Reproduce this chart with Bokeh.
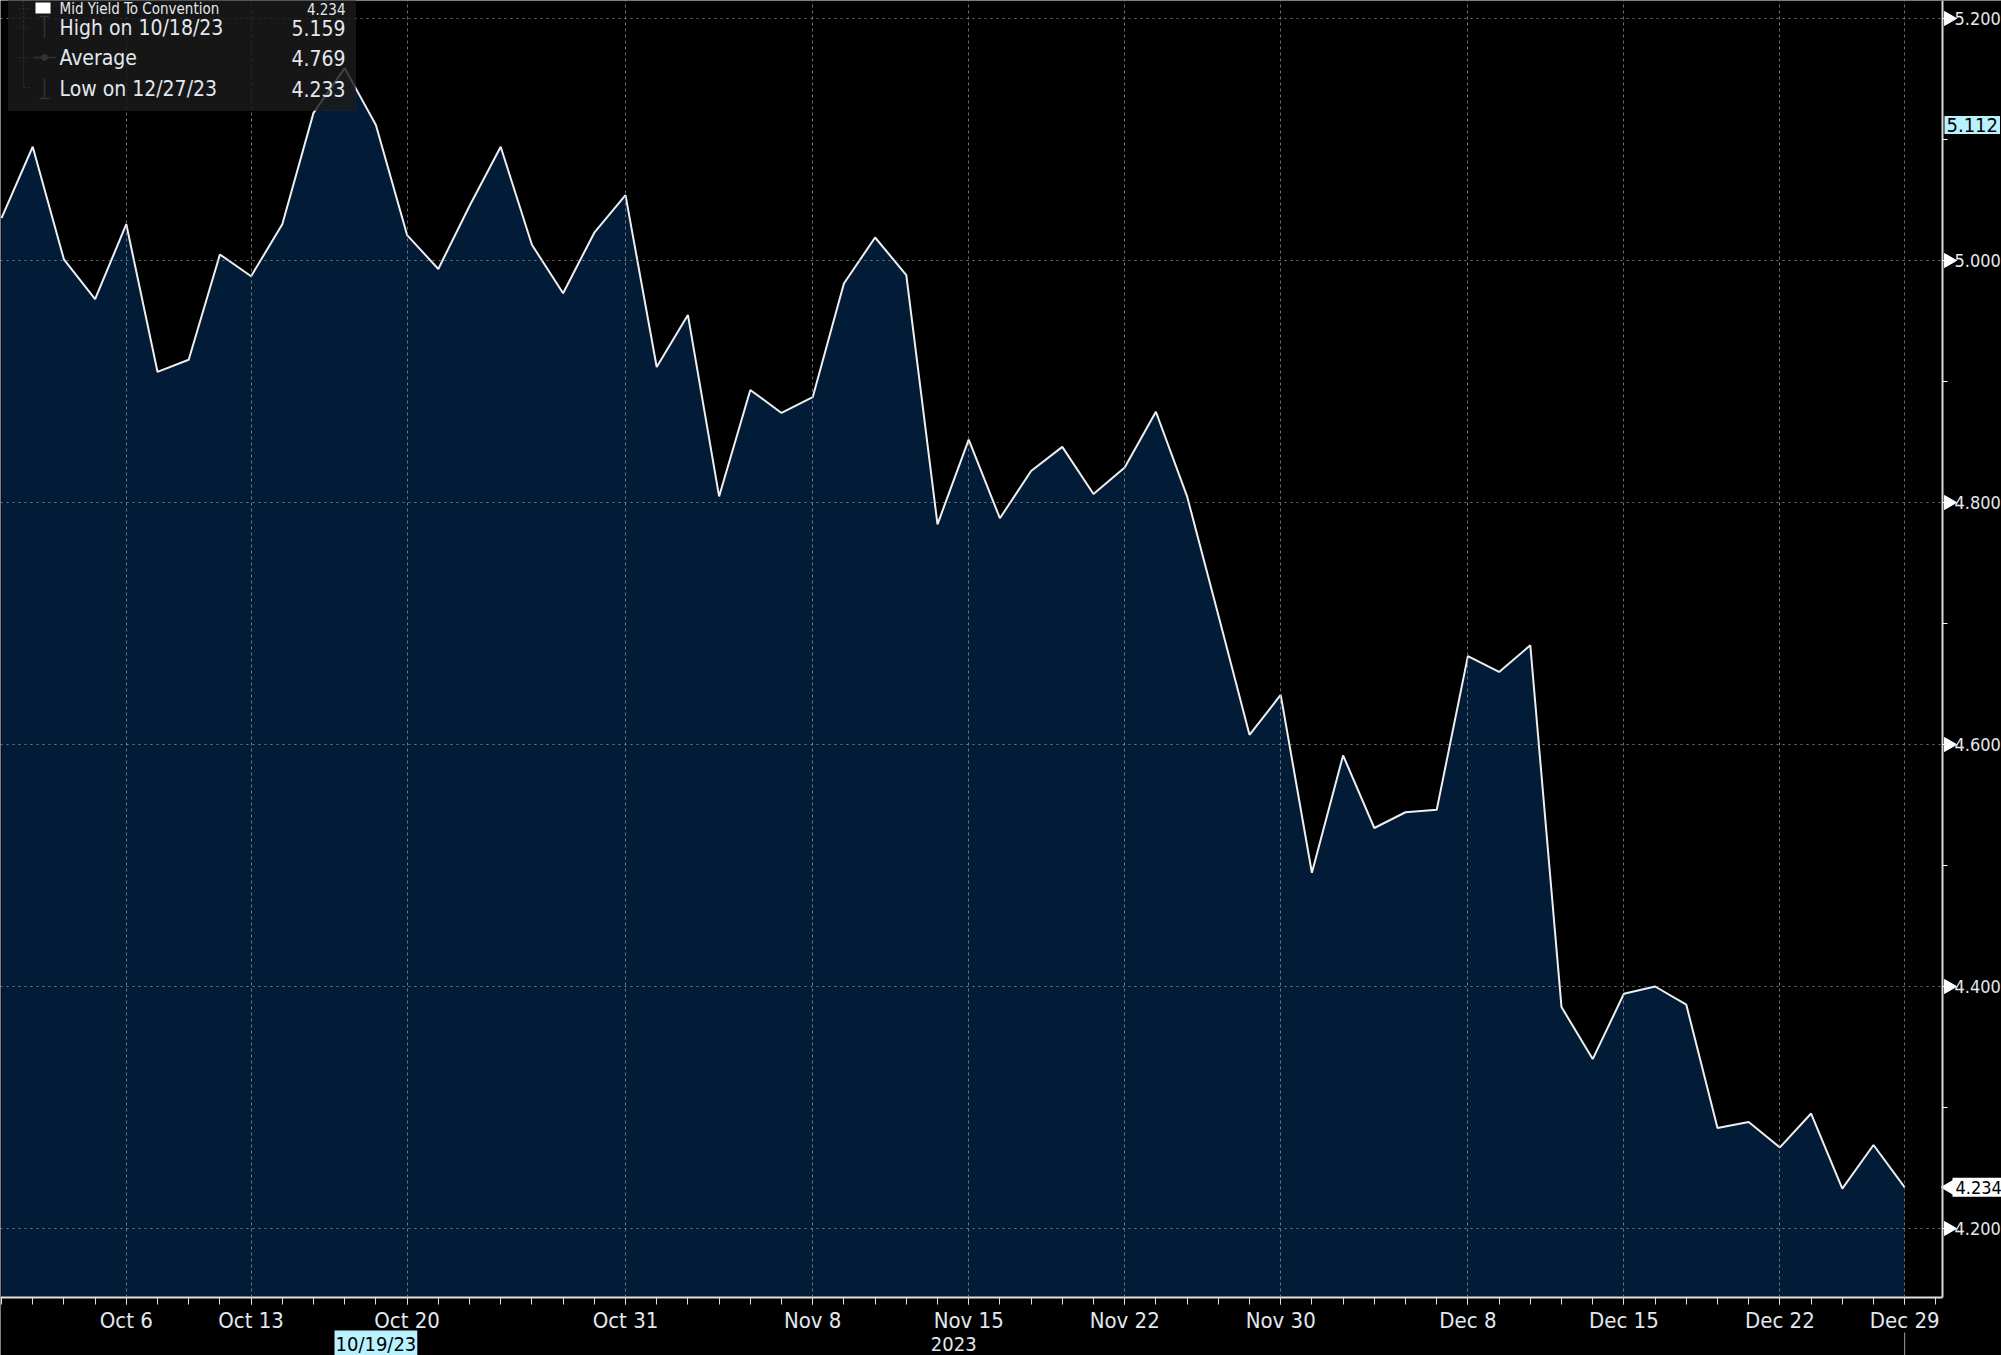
import math
from bokeh.plotting import figure
from bokeh.models import FixedTicker, Range1d, Label, BoxAnnotation, PrintfTickFormatter
from bokeh.embed import file_html
from bokeh.resources import INLINE

# ---------------- data ----------------
dates = [
    "2023-10-02", "2023-10-03", "2023-10-04", "2023-10-05", "2023-10-06",
    "2023-10-10", "2023-10-11", "2023-10-12", "2023-10-13",
    "2023-10-16", "2023-10-17", "2023-10-18", "2023-10-19", "2023-10-20",
    "2023-10-23", "2023-10-24", "2023-10-25", "2023-10-26", "2023-10-27",
    "2023-10-30", "2023-10-31", "2023-11-01", "2023-11-02", "2023-11-03",
    "2023-11-06", "2023-11-07", "2023-11-08", "2023-11-09", "2023-11-10",
    "2023-11-13", "2023-11-14", "2023-11-15", "2023-11-16", "2023-11-17",
    "2023-11-20", "2023-11-21", "2023-11-22", "2023-11-24",
    "2023-11-27", "2023-11-28", "2023-11-29", "2023-11-30", "2023-12-01",
    "2023-12-04", "2023-12-05", "2023-12-06", "2023-12-07", "2023-12-08",
    "2023-12-11", "2023-12-12", "2023-12-13", "2023-12-14", "2023-12-15",
    "2023-12-18", "2023-12-19", "2023-12-20", "2023-12-21", "2023-12-22",
    "2023-12-26", "2023-12-27", "2023-12-28", "2023-12-29",
]
yields = [
    5.035, 5.094, 5.001, 4.968, 5.030,
    4.908, 4.918, 5.005, 4.987,
    5.030, 5.122, 5.159, 5.112, 5.021,
    4.993, 5.045, 5.094, 5.013, 4.973,
    5.023, 5.054, 4.912, 4.955, 4.805,
    4.893, 4.874, 4.887, 4.981, 5.019,
    4.988, 4.782, 4.852, 4.787, 4.826,
    4.846, 4.807, 4.829, 4.875,
    4.805, 4.707, 4.608, 4.641, 4.494,
    4.591, 4.531, 4.544, 4.546, 4.673,
    4.660, 4.682, 4.383, 4.340, 4.394,
    4.400, 4.385, 4.283, 4.288, 4.267,
    4.295, 4.233, 4.269, 4.234,
]
tick_dates = ["2023-10-06", "2023-10-13", "2023-10-20", "2023-10-31", "2023-11-08",
              "2023-11-15", "2023-11-22", "2023-11-30", "2023-12-08", "2023-12-15",
              "2023-12-22", "2023-12-29"]
tick_texts = ["Oct 6", "Oct 13", "Oct 20", "Oct 31", "Nov 8", "Nov 15", "Nov 22",
              "Nov 30", "Dec 8", "Dec 15", "Dec 22", "Dec 29"]
year_date = "2023-11-15"
year_text = "2023"
y_ticks = [4.2, 4.4, 4.6, 4.8, 5.0, 5.2]
y_minor_ticks = [4.3, 4.5, 4.7, 4.9, 5.1]
legend_names = ["Mid Yield To Convention", "High on 10/18/23", "Average", "Low on 12/27/23"]
legend_values = ["4.234", "5.159", "4.769", "4.233"]
cross_date = "2023-10-19"
cross_date_text = "10/19/23"
cross_value = 5.112
last_value = 4.234

# ---------------- layout ----------------
W, H = 2001, 1355
FONT = "DejaVu Sans Condensed, DejaVu Sans, sans-serif"
TXT = "#e2e8ef"
x = list(range(len(yields)))
tick_idx = [dates.index(d) for d in tick_dates]

# canvas pixel -> data helpers (used only for placing decorations)
def dx(px):
    return (px - 1) / 31.2

def dy(py):
    return 5.2 - (py - 18) / 1210.0

X0, X1 = dx(0), dx(W)          # frame covers the whole canvas
Y0, Y1 = dy(H), dy(0)
AX = dx(1942)                  # where the value axis sits
AY = dy(1297)                  # where the date axis sits

p = figure(width=W, height=H, output_backend="svg", toolbar_location=None,
           x_range=Range1d(X0, X1), y_range=Range1d(Y0, Y1), y_axis_location="right",
           min_border_left=0, min_border_top=0, min_border_right=0, min_border_bottom=0,
           background_fill_color="black", border_fill_color="black",
           outline_line_color=None)

# area + line
p.varea(x=x, y1=AY, y2=yields, fill_color="#021c38", fill_alpha=1.0)
p.line(x, yields, line_color="#eeeeee", line_width=2)

# grids
p.xgrid.ticker = FixedTicker(ticks=tick_idx)
p.xgrid.grid_line_color = "#9a9a9a"
p.xgrid.grid_line_alpha = 0.7
p.xgrid.grid_line_dash = "3 3"
p.xgrid.level = "guide"
p.ygrid.ticker = FixedTicker(ticks=y_ticks)
p.ygrid.grid_line_color = "#9a9a9a"
p.ygrid.grid_line_alpha = 0.75
p.ygrid.grid_line_dash = "2 4"
p.ygrid.level = "guide"
try:
    p.xgrid.cross_bounds = (AY, Y1)
    p.ygrid.cross_bounds = (X0, AX)
except Exception:
    pass

# y axis (right, drawn inside the canvas at AX)
ya = p.yaxis[0]
ya.fixed_location = AX
ya.bounds = (AY, Y1)
ya.ticker = FixedTicker(ticks=y_ticks, minor_ticks=y_minor_ticks)
ya.formatter = PrintfTickFormatter(format="%.3f")
ya.axis_line_color = "#d8d8d8"
ya.axis_line_width = 2
ya.major_tick_in = 0
ya.major_tick_out = 10
ya.major_tick_line_width = 1
ya.major_tick_line_color = "white"
ya.minor_tick_in = 0
ya.minor_tick_out = 5
ya.minor_tick_line_color = "white"
ya.major_label_standoff = 2
ya.major_label_text_font_size = "18px"
ya.major_label_text_color = TXT
ya.major_label_text_font = FONT

# arrow-shaped major ticks
p.scatter(x=[dx(1948)] * len(y_ticks), y=y_ticks, marker="triangle", size=14,
          angle=-math.pi / 2, fill_color="white", line_color="white")

# x axis (bottom, drawn at AY)
xa = p.xaxis[0]
xa.fixed_location = AY
xa.bounds = (X0, AX)
xa.ticker = FixedTicker(ticks=tick_idx, minor_ticks=list(range(len(yields) + 1)))
xa.major_label_overrides = {i: t for i, t in zip(tick_idx, tick_texts)}
xa.axis_line_color = "#e0e0e0"
xa.axis_line_width = 2
xa.major_tick_in = 0
xa.major_tick_out = 7
xa.major_tick_line_color = "#e0e0e0"
xa.minor_tick_in = 0
xa.minor_tick_out = 7
xa.minor_tick_line_color = "#e0e0e0"
xa.major_label_standoff = 3
xa.major_label_text_font_size = "22px"
xa.major_label_text_color = TXT
xa.major_label_text_font = FONT

# current-date marker under the axis labels
last_i = len(yields) - 1
p.segment(x0=[last_i], y0=[dy(1332)], x1=[last_i], y1=[Y0], line_color="#a0a0a0",
          line_width=1)

# legend box
p.add_layout(BoxAnnotation(left=dx(8), right=dx(355), top=Y1 + 0.05, bottom=dy(110),
                           fill_color="#1b1b1b", fill_alpha=0.82,
                           line_color="#333333", line_width=1))
row_py = [8, 27, 57, 88]
row_font = ["15px", "21px", "21px", "21px"]
# tree line
p.segment(x0=[dx(23), dx(23), dx(18), dx(18), dx(18)],
          y0=[dy(0), dy(87), dy(8), dy(27), dy(57)],
          x1=[dx(23), dx(31), dx(28), dx(28), dx(28)],
          y1=[dy(87), dy(87), dy(8), dy(27), dy(57)],
          line_color="#8a8a8a", line_width=1.2, line_dash="2 2")
# icons: high, low, average
p.segment(x0=[dx(44), dx(39), dx(44), dx(39), dx(33)],
          y0=[dy(16), dy(16), dy(78), dy(98), dy(57)],
          x1=[dx(44), dx(49), dx(44), dx(49), dx(55)],
          y1=[dy(37), dy(16), dy(98), dy(98), dy(57)],
          line_color="#a0a0a0", line_width=1.5)
p.scatter([dx(44)], [dy(57)], size=6, marker="circle", fill_color="#a0a0a0",
          line_color="#a0a0a0")
p.add_layout(BoxAnnotation(left=dx(35), right=dx(50), top=dy(2), bottom=dy(13),
                           fill_color="white", fill_alpha=1.0, line_color=None))

for name, val, py, fs in zip(legend_names, legend_values, row_py, row_font):
    p.add_layout(Label(x=dx(59), y=dy(py), text=name, text_align="left",
                       text_baseline="middle", text_font_size=fs,
                       text_color=TXT, text_font=FONT))
    p.add_layout(Label(x=dx(345), y=dy(py), text=val, text_align="right",
                       text_baseline="middle", text_font_size=fs,
                       text_color=TXT, text_font=FONT))

# right-side value tags
p.add_layout(Label(x=AX, y=cross_value, x_offset=2, text=f"{cross_value:.3f}",
                   text_align="left", text_baseline="middle", text_font_size="20px",
                   text_color="black", text_font=FONT, background_fill_color="#b8f2ff",
                   padding=2))
p.scatter(x=[dx(1951)], y=[last_value], marker="triangle", size=18,
          angle=math.pi / 2, fill_color="white", line_color="white")
p.add_layout(Label(x=AX, y=last_value, x_offset=10, text=f"{last_value:.3f}",
                   text_align="left", text_baseline="middle", text_font_size="18px",
                   text_color="black", text_font=FONT, background_fill_color="white",
                   padding=3))

# bottom tags
p.add_layout(Label(x=dates.index(cross_date), y=dy(1343), text=cross_date_text,
                   text_align="center", text_baseline="middle", text_font_size="20px",
                   text_color="black", text_font=FONT, background_fill_color="#b8f2ff",
                   padding=1))
p.add_layout(Label(x=dates.index(year_date), y=dy(1343), x_offset=-15, text=year_text,
                   text_align="center", text_baseline="middle", text_font_size="20px",
                   text_color=TXT, text_font=FONT))

open("out.html", "w").write(file_html(p, INLINE))
